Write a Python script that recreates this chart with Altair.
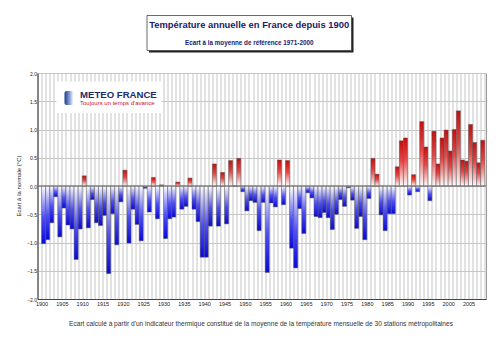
import altair as alt
import pandas as pd

years = list(range(1900, 2009))
anomalies = [
    -1.02, -0.95, -0.65, -0.19, -0.90, -0.39, -0.69, -0.76, -1.30, -0.76,
    0.18, -0.74, -0.24, -0.65, -0.70, -0.52, -1.55, -0.49, -1.04, -0.28,
    0.28, -1.01, -0.41, -0.68, -0.97, -0.04, -0.46, 0.15, -0.58, 0.02,
    -0.93, -0.58, -0.55, 0.07, -0.41, -0.36, 0.14, -0.41, -0.63, -1.26,
    -1.26, -0.71, 0.39, -0.71, 0.24, -0.67, 0.45, 0.00, 0.49, -0.10,
    -0.44, -0.26, -0.29, -0.79, -0.29, -1.53, -0.30, -0.37, 0.46, -0.33,
    0.45, -1.10, -1.45, -0.40, -0.84, -0.12, -0.21, -0.54, -0.56, -0.47,
    -0.56, -0.77, -0.50, -0.24, -0.36, -0.03, -0.25, -0.75, -0.54, -0.95,
    -0.22, 0.49, 0.21, -0.51, -0.79, -0.49, -0.49, 0.34, 0.80, 0.85,
    -0.16, 0.20, -0.10, 1.14, 0.69, -0.26, 0.97, 0.39, 0.85, 0.99,
    0.62, 1.00, 1.33, 0.46, 0.44, 1.09, 0.77, 0.41, 0.81,
]
year_ticks = list(range(1899, 2010))
y_ticks = [-2.0, -1.5, -1.0, -0.5, 0.0, 0.5, 1.0, 1.5, 2.0]

title_text = "Température annuelle en France depuis 1900"
subtitle_text = "Ecart à la moyenne de référence 1971-2000"
ytitle_text = "Ecart à la normale (°C)"
footer_text = ("Ecart calculé à partir d'un indicateur thermique constitué de la moyenne "
               "de la température mensuelle de 30 stations métropolitaines")
logo_name = "METEO FRANCE"
logo_slogan = "Toujours un temps d'avance"

FONT = "Liberation Sans"
W, H = 448.5, 226

df = pd.DataFrame({"year": years, "value": anomalies})

x_axis = alt.Axis(
    values=year_ticks, grid=True, gridColor="#c6c6c6", gridWidth=1,
    ticks=False, labelExpr="datum.value % 5 == 0 && datum.value <= 2005 ? datum.value : ''",
    labelFont=FONT, labelFontSize=5.5, labelColor="#222", labelPadding=2,
    labelFlush=False, labelOverlap=False, domainColor="#444", title=None,
)
y_axis = alt.Axis(
    values=y_ticks, format=".1f", grid=True, gridColor="#c6c6c6",
    ticks=False, labelFont=FONT, labelFontSize=5, labelColor="#222",
    labelPadding=1, labelOverlap=False, labelFlush=False,
    domainColor="#444", title=None,
)
x_scale = alt.Scale(domain=[1899, 2009.3], nice=False, zero=False)
y_scale = alt.Scale(domain=[-2, 2], nice=False)

x_enc = alt.X("year:Q", scale=x_scale, axis=x_axis)
y_enc = alt.Y("value:Q", scale=y_scale, axis=y_axis)

red_grad = alt.Gradient(
    gradient="linear", x1=0, x2=0, y1=1, y2=0,
    stops=[alt.GradientStop(color="#ffffff", offset=0),
           alt.GradientStop(color="#e64848", offset=0.55),
           alt.GradientStop(color="#c80c0c", offset=1)],
)
blue_grad = alt.Gradient(
    gradient="linear", x1=0, x2=0, y1=0, y2=1,
    stops=[alt.GradientStop(color="#ffffff", offset=0),
           alt.GradientStop(color="#4f4ff0", offset=0.55),
           alt.GradientStop(color="#0808d8", offset=1)],
)

base = alt.Chart(df).transform_calculate(year_end="datum.year + 1", zero="0")

pos = base.transform_filter("datum.value >= 0").mark_bar(
    fill=red_grad, stroke="#555", strokeWidth=0.5
).encode(x=x_enc, x2="year_end:Q", y=y_enc, y2="zero:Q")

neg = base.transform_filter("datum.value < 0").mark_bar(
    fill=blue_grad, stroke="#555", strokeWidth=0.5
).encode(x=x_enc, x2="year_end:Q", y=y_enc, y2="zero:Q")

zero = alt.Chart(pd.DataFrame({"value": [0.0]})).mark_rule(
    color="#666", strokeWidth=1
).encode(y=y_enc)

one = pd.DataFrame({"k": [0]})

def text_layer(txt, x, y, size, color, weight="normal", align="center", angle=0):
    return alt.Chart(pd.DataFrame({"t": [txt]})).mark_text(
        font=FONT, fontSize=size, color=color, fontWeight=weight, align=align,
        baseline="middle", angle=angle,
    ).encode(text="t:N", x=alt.value(x), y=alt.value(y))

shadow = alt.Chart(one).mark_rect(fill="#222").encode(
    x=alt.value(111.5), x2=alt.value(316.0), y=alt.value(-55.5), y2=alt.value(-20.5))
tbox = alt.Chart(one).mark_rect(fill="white", stroke="#444", strokeWidth=0.8).encode(
    x=alt.value(109.5), x2=alt.value(314.0), y=alt.value(-57.5), y2=alt.value(-22.5))

logo_box = alt.Chart(one).mark_rect(fill="white").encode(
    x=alt.value(19), x2=alt.value(124), y=alt.value(8.5), y2=alt.value(40))
icon_grad = alt.Gradient(
    gradient="linear", x1=0, x2=1, y1=0, y2=0,
    stops=[alt.GradientStop(color="#1c3c8c", offset=0),
           alt.GradientStop(color="#8fa6d6", offset=0.6),
           alt.GradientStop(color="#ffffff", offset=1)],
)
icon = alt.Chart(one).mark_rect(fill=icon_grad, cornerRadius=2).encode(
    x=alt.value(27), x2=alt.value(36), y=alt.value(18), y2=alt.value(32))

chart = alt.layer(
    neg, pos, zero,
    shadow, tbox,
    text_layer(title_text, 211.7, -48.5, 9.4, "#1a1a6a", "bold"),
    text_layer(subtitle_text, 211.7, -30, 6.3, "#1a1a6a", "bold"),
    logo_box, icon,
    text_layer(logo_name, 42.5, 21.5, 9.6, "#1a2a6c", "bold", "left"),
    text_layer(logo_slogan, 42.5, 29.5, 6, "#c8102e", "normal", "left"),
    text_layer(ytitle_text, -18.5, 113, 6, "#222", "normal", "center", 270),
    text_layer(footer_text, 223.5, 251, 6.6, "#333", "normal", "center"),
).properties(
    width=W, height=H,
    autosize=alt.AutoSizeParams(type="none"),
    padding={"left": 37.5, "top": 73, "right": 14, "bottom": 53},
    background="white",
).configure_view(stroke="#999", strokeWidth=1)

chart.save("out.html", embed_options={"renderer": "svg", "actions": False})
